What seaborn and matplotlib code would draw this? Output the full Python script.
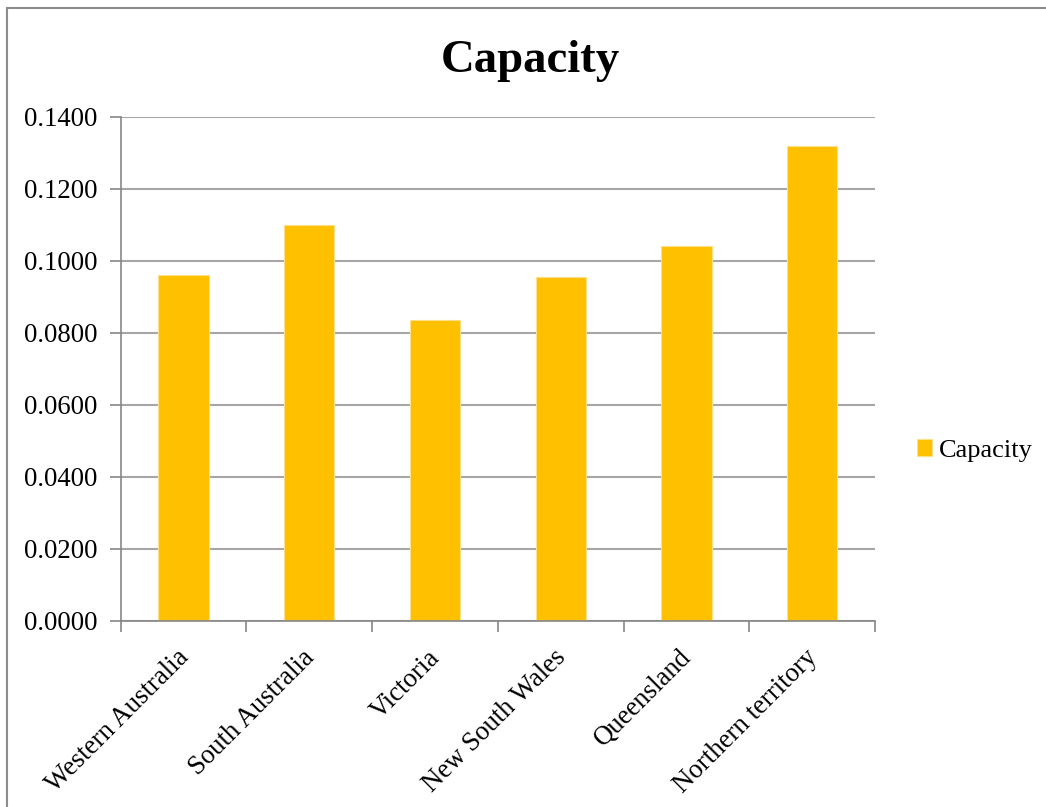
import seaborn as sns
import matplotlib.pyplot as plt
import matplotlib.transforms as mtransforms
import pandas as pd
from matplotlib.patches import Rectangle
from matplotlib.ticker import FixedLocator, FormatStrFormatter

regions = ['Western Australia', 'South Australia', 'Victoria',
           'New South Wales', 'Queensland', 'Northern territory']
capacity = [0.0960, 0.1099, 0.0835, 0.0954, 0.1041, 0.1319]
yticks = [0.0, 0.02, 0.04, 0.06, 0.08, 0.10, 0.12, 0.14]

df = pd.DataFrame({'region': regions, 'value': capacity,
                   'series': ['Capacity'] * len(regions)})

sns.set_theme(style="white")
plt.rcParams['font.family'] = ['Liberation Serif', 'DejaVu Serif']
plt.rcParams['text.color'] = 'black'
plt.rcParams['xtick.labelcolor'] = 'black'
plt.rcParams['ytick.labelcolor'] = 'black'

fig = plt.figure(figsize=(10.46, 8.07), dpi=100)
ax = fig.add_axes([0.1154, 0.2309, 0.8365 - 0.1154, 0.8554 - 0.2309])

sns.barplot(data=df, x='region', y='value', hue='series',
            palette=['#FFC000'], width=0.4, saturation=1,
            edgecolor='#FFE08A', linewidth=0.8, ax=ax)

ax.set_xlim(-0.5, len(regions) - 0.5)
ax.set_ylim(0, 0.14)
ax.set_yticks(yticks)
ax.yaxis.set_major_formatter(FormatStrFormatter('%.4f'))
ax.set_axisbelow(True)
ax.yaxis.grid(True, color='#a6a6a6', lw=1.5)
ax.xaxis.grid(False)

# category boundary ticks like Excel
ax.xaxis.set_minor_locator(FixedLocator([i - 0.5 for i in range(len(regions) + 1)]))
ax.tick_params(axis='x', which='major', length=0, labelsize=19.3, pad=6)
ax.tick_params(axis='x', which='minor', length=8, width=1.2, color='#868686', bottom=True)
ax.tick_params(axis='y', length=8, width=1.2, color='#868686', left=True, labelsize=19.3, pad=9)
offset = mtransforms.ScaledTranslation(10 / 100, -16 / 100, fig.dpi_scale_trans)
for lab in ax.get_xticklabels():
    lab.set_rotation(45)
    lab.set_ha('right')
    lab.set_transform(lab.get_transform() + offset)

for s in ['top', 'right']:
    ax.spines[s].set_visible(False)
for s in ['left', 'bottom']:
    ax.spines[s].set_color('#868686')
    ax.spines[s].set_linewidth(1.2)

ax.set_xlabel('')
ax.set_ylabel('')

handles, labels = ax.get_legend_handles_labels()
ax.legend(handles, labels, loc='center left', bbox_to_anchor=(0.8535, 0.442),
          bbox_transform=fig.transFigure, frameon=False, fontsize=19,
          handlelength=0.6, handleheight=0.6, handletextpad=0.25)

fig.text(0.507, 0.924, 'Capacity', ha='center', va='center',
         fontsize=33.7, fontweight='bold')

fig.patches.append(Rectangle((7 / 1046, -0.1), 1.2, 1.1 - 8 / 807,
                             transform=fig.transFigure, fill=False,
                             edgecolor='#8c8c8c', lw=1.5))

fig.savefig('out.png', dpi=100)
